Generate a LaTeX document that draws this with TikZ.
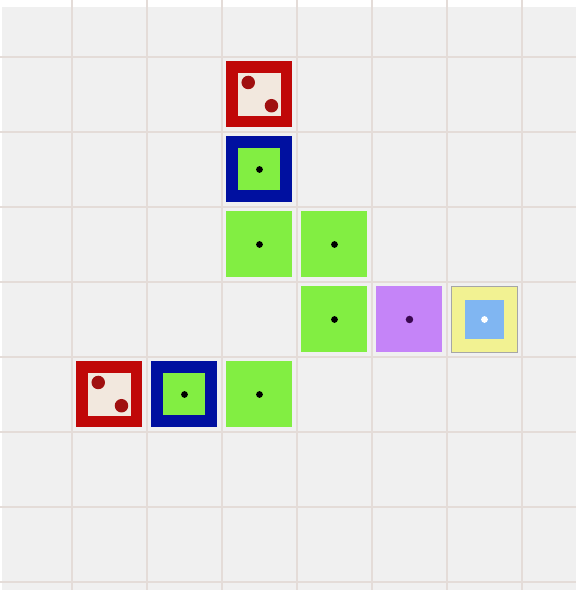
\documentclass[tikz,border=0pt]{standalone}
\usepackage{tikz}
\usetikzlibrary{calc}
\definecolor{cbg}{HTML}{F0F0F0}
\definecolor{cgrid}{HTML}{E4DCD8}
\definecolor{cred}{HTML}{C00808}
\definecolor{cpip}{HTML}{A01010}
\definecolor{ccream}{HTML}{F2E8DE}
\definecolor{cblue}{HTML}{0010A0}
\definecolor{cgreen}{HTML}{82EE42}
\definecolor{cviolet}{HTML}{C584F8}
\definecolor{cplum}{HTML}{3A0850}
\definecolor{cyel}{HTML}{F2F292}
\definecolor{csky}{HTML}{80B6F2}
\tikzset{
  cell/.style={minimum size=8.8mm, inner sep=0pt, draw=none},
  gridline/.style={draw=cgrid, line width=0.7pt},
  die/.style={cell, fill=cred, path picture={
    \fill[ccream] ($(path picture bounding box.south west)+(0.15,0.15)$) rectangle ($(path picture bounding box.north east)+(-0.15,-0.15)$);
    \fill[cpip] ($(path picture bounding box.center)+(-0.15,0.16)$) circle (0.09);
    \fill[cpip] ($(path picture bounding box.center)+(0.16,-0.15)$) circle (0.09);}},
  lock/.style={cell, fill=cblue, path picture={
    \fill[cgreen] ($(path picture bounding box.south west)+(0.16,0.16)$) rectangle ($(path picture bounding box.north east)+(-0.16,-0.16)$);
    \fill[black] (path picture bounding box.center) circle (0.045);}},
  floor/.style={cell, fill=cgreen, path picture={
    \fill[black] (path picture bounding box.center) circle (0.045);}},
  warp/.style={cell, fill=cviolet, path picture={
    \fill[cplum] (path picture bounding box.center) circle (0.05);}},
  goal/.style={cell, fill=cyel, draw=black!35, line width=0.6pt, path picture={
    \fill[csky] ($(path picture bounding box.south west)+(0.18,0.18)$) rectangle ($(path picture bounding box.north east)+(-0.18,-0.18)$);
    \fill[white] (path picture bounding box.center) circle (0.045);}},
}
\begin{document}
\begin{tikzpicture}[x=1cm,y=1cm]
\useasboundingbox (-0.96,0.76) rectangle (6.72,-7.107);
\fill[white] (-0.96,0.76) rectangle (6.72,-7.107);
\fill[cbg] (-0.933,0.667) rectangle (6.72,-7.107);
% grid
\foreach \x in {0,...,6} \draw[gridline] (\x,0.76) -- (\x,-7.107);
\foreach \y in {0,...,7} \draw[gridline] (-0.96,-\y) -- (6.72,-\y);
% upper arm
\node[die] (dieA) at (2.5,-0.5) {};
\node[lock] (lockA) at (2.5,-1.5) {};
\node[floor] (fA) at (2.5,-2.5) {};
\node[floor] (fB) at (3.5,-2.5) {};
\node[floor] (fC) at (3.5,-3.5) {};
\node[warp] (portal) at (4.5,-3.5) {};
\node[goal] (exit) at (5.5,-3.5) {};
% lower arm
\node[die] (dieB) at (0.5,-4.5) {};
\node[lock] (lockB) at (1.5,-4.5) {};
\node[floor] (fD) at (2.5,-4.5) {};
\end{tikzpicture}
\end{document}
